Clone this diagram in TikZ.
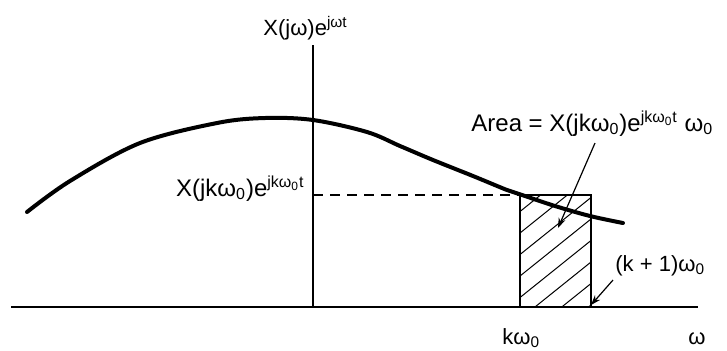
\documentclass[tikz,border=0pt]{standalone}
\usepackage{fontspec}
\setmainfont{Liberation Sans}
\usetikzlibrary{arrows.meta}
\begin{document}
\begin{tikzpicture}[x=0.5pt,y=-0.5pt,
  lbl/.style={inner sep=0pt, font=\fontsize{11}{13}\selectfont},
  biglbl/.style={inner sep=0pt, font=\fontsize{12}{14}\selectfont},
  axisline/.style={line width=0.8pt},
  curveline/.style={line width=2pt, line cap=round},
  boxline/.style={line width=1.3pt},
  hatchline/.style={line width=0.5pt},
  dashline/.style={line width=0.7pt, dash pattern=on 5pt off 3.5pt},
  leader/.style={line width=0.6pt, -{Stealth[length=5pt,width=3.5pt]}},
]
\useasboundingbox (0,0) rectangle (727,350);
% axes
\coordinate (xl) at (11,307); \coordinate (xr) at (698,307);
\coordinate (yb) at (313,307); \coordinate (yt) at (313,45);
\draw[axisline] (xl) -- (xr);
\draw[axisline] (yb) -- (yt);
% hatched rectangle
\coordinate (rbl) at (520,307); \coordinate (rtr) at (591,195);
\coordinate (rtl) at (520,195);
\begin{scope}
\clip (rbl) rectangle (rtr);
\foreach \c in {190,211.5,...,380} \draw[hatchline] (520,\c) -- (591,\c-57);
\end{scope}
\draw[boxline] (rbl) rectangle (rtr);
% dashed level line
\coordinate (dl) at (313,195);
\draw[dashline] (dl) -- (rtl);
% curve
\draw[curveline] plot[smooth, tension=0.55] coordinates {(27,212) (70,181) (140,143) (217,123) (265,118) (313,120) (367,132) (400,146) (433,160) (473,176) (507,190) (522,195) (555,206) (590,216) (623,223)};
% labels
\node[lbl, anchor=base west] (ylab) at (263,35) {X(jω)e\textsuperscript{jωt}};
\node[biglbl, anchor=base west] (area) at (471,131) {Area = X(jkω\textsubscript{0})e\textsuperscript{jkω\textsubscript{0}t} ω\textsubscript{0}};
\node[biglbl, anchor=base east] (lev) at (305,196) {X(jkω\textsubscript{0})e\textsuperscript{jkω\textsubscript{0}t}};
\node[lbl, anchor=base west] (kp1) at (615,271) {(k + 1)ω\textsubscript{0}};
\node[lbl, anchor=base west] (kw) at (502,344) {kω\textsubscript{0}};
\node[lbl, anchor=base west] (w) at (688,344) {ω};
% leaders
\coordinate (a1) at (595,143); \coordinate (a2) at (558,228);
\draw[leader] (a1) -- (a2);
\coordinate (b1) at (613,280); \coordinate (b2) at (591,305);
\draw[leader] (b1) -- (b2);
\end{tikzpicture}
\end{document}
